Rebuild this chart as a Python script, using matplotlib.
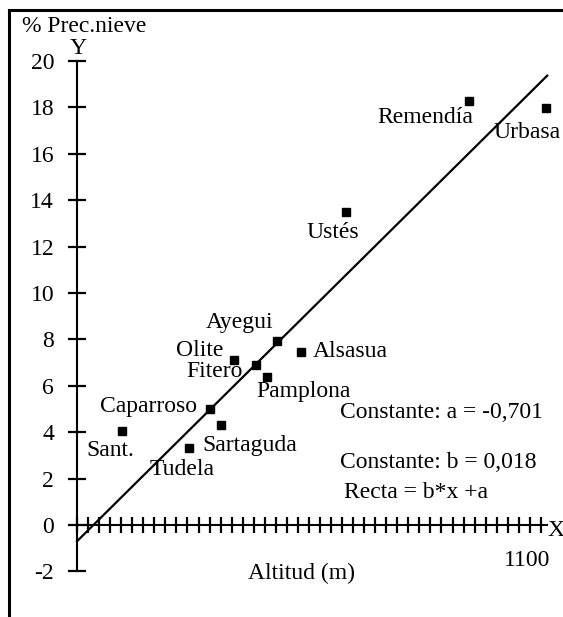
import numpy as np
import matplotlib
matplotlib.use("Agg")
import matplotlib.pyplot as plt
from matplotlib.lines import Line2D

plt.rcParams['font.family'] = ['Liberation Serif', 'DejaVu Serif']

# Data: station, altitude (m), % snow precipitation
stations = ["Sant.", "Tudela", "Caparroso", "Sartaguda", "Olite", "Fitero",
            "Pamplona", "Ayegui", "Alsasua", "Ustés", "Remendía", "Urbasa"]
altitude = [107, 266, 315, 341, 372, 424, 450, 474, 530, 638, 930, 1112]
snow_pct = [4.05, 3.32, 5.0, 4.31, 7.11, 6.90, 6.39, 7.94, 7.47, 13.49, 18.29, 17.97]

# label offsets in pixels (dx, dy down) and alignment
label_pos = {
    "Sant.": (-12, 19, "center"),
    "Tudela": (-7, 22, "center"),
    "Caparroso": (-13, -2, "right"),
    "Sartaguda": (-18, 20, "left"),
    "Olite": (-11, -10, "right"),
    "Fitero": (-13, 7, "right"),
    "Pamplona": (-10, 15, "left"),
    "Ayegui": (-4, -18, "right"),
    "Alsasua": (12, 0, "left"),
    "Ustés": (-13, 20, "center"),
    "Remendía": (4, 17, "right"),
    "Urbasa": (-52, 24, "left"),
}

a = -0.701
b = 0.018
line_x = np.array([0, 1115])

fig = plt.figure(figsize=(5.63, 6.17), dpi=100)
ax = fig.add_axes([0, 0, 1, 1])
ax.set_xlim(-182.6, 1152.4)
ax.set_ylim(-3.966, 22.63)
ax.patch.set_visible(False)

for s in ["top", "right"]:
    ax.spines[s].set_visible(False)
ax.spines["left"].set_position(("data", 0))
ax.spines["bottom"].set_position(("data", 0))
ax.spines["left"].set_bounds(-2, 20)
ax.spines["bottom"].set_bounds(0, 1114)
ax.spines["left"].set_linewidth(1.5)
ax.spines["bottom"].set_linewidth(1.5)

ax.set_yticks(np.arange(-2, 21, 2))
ax.set_yticklabels([str(v) for v in range(-2, 21, 2)])
ax.tick_params(axis="y", direction="inout", length=13, width=1.6,
               pad=10, labelsize=17)
ax.set_xticks(np.linspace(0, 1100, 43))
ax.tick_params(axis="x", direction="inout", length=11, width=1.6,
               labelbottom=False)

# regression line
ax.plot(line_x, b * line_x + a, color="black", lw=1.6)

# stations
ax.plot(altitude, snow_pct, "s", color="black", ms=6, ls="none")
for name, xv, yv in zip(stations, altitude, snow_pct):
    dx, dy, ha = label_pos[name]
    ax.annotate(name, (xv, yv), xytext=(dx * 0.72, -dy * 0.72),
                textcoords="offset points", ha=ha, va="center", fontsize=17)

# texts
W, H = 563, 617
def ftext(px, py, s, **kw):
    fig.text(px / W, 1 - py / H, s, fontsize=17, **kw)

ftext(22, 26, "% Prec.nieve", ha="left", va="center")
ftext(78, 48, "Y", ha="center", va="center")
ftext(556, 530, "X", ha="center", va="center")
ftext(527, 561, "1100", ha="center", va="center")
ftext(302, 573, "Altitud (m)", ha="center", va="center")
ftext(340, 413, "Constante: a = -0,701", ha="left", va="center")
ftext(340, 462, "Constante: b = 0,018", ha="left", va="center")
ftext(344, 493, "Recta = b*x +a", ha="left", va="center")

# frame
fig.add_artist(Line2D([9 / W, 9 / W], [0, 1 - 10 / H], color="black", lw=2.2))
fig.add_artist(Line2D([9 / W, 1], [1 - 10 / H, 1 - 10 / H], color="black", lw=2.2))

fig.savefig("out.png", dpi=100)
